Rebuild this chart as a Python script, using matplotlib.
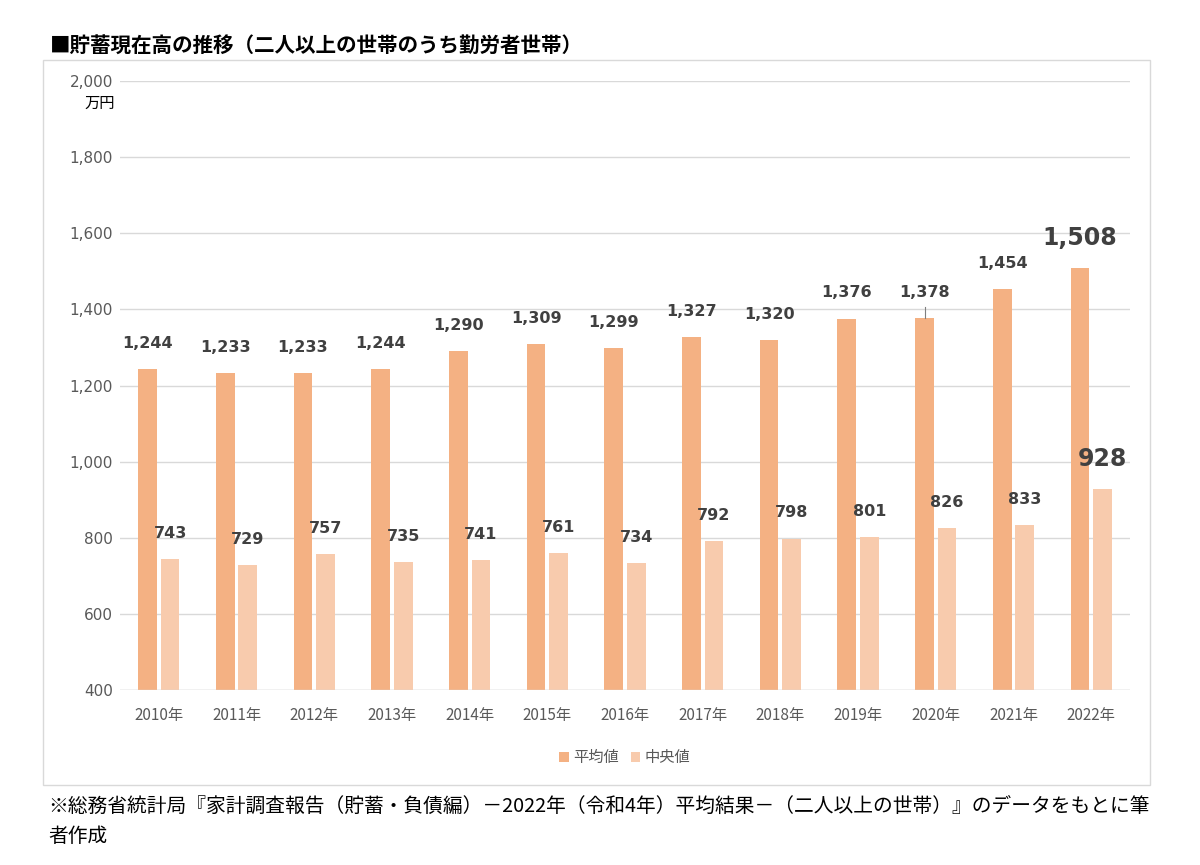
import matplotlib
matplotlib.use("Agg")
import matplotlib.pyplot as plt
from matplotlib.patches import Rectangle
import numpy as np

plt.rcParams['font.family'] = ['Noto Sans CJK JP', 'DejaVu Sans']

# data
years = ["2010年", "2011年", "2012年", "2013年", "2014年", "2015年", "2016年",
         "2017年", "2018年", "2019年", "2020年", "2021年", "2022年"]
meanValues = [1244, 1233, 1233, 1244, 1290, 1309, 1299, 1327, 1320, 1376, 1378, 1454, 1508]
medianValues = [743, 729, 757, 735, 741, 761, 734, 792, 798, 801, 826, 833, 928]
seriesNames = ["平均値", "中央値"]
yTicks = [400, 600, 800, 1000, 1200, 1400, 1600, 1800, 2000]

darkColor = "#F4B183"
lightColor = "#F8CBAD"
textColor = "#404040"

fig = plt.figure(figsize=(12, 8.65), dpi=100)

# outer chart frame
fig.patches.append(Rectangle((43 / 1200, 1 - 785 / 865), (1150 - 43) / 1200, (785 - 60) / 865,
                             transform=fig.transFigure, fill=False, edgecolor="#d9d9d9", linewidth=1))

ax = fig.add_axes([120 / 1200, 1 - 690 / 865, (1130 - 120) / 1200, (690 - 81) / 865])

x = np.arange(len(years))
barWidth = 0.24
gap = 0.025
ax.bar(x - barWidth / 2 - gap, meanValues, width=barWidth, color=darkColor, label=seriesNames[0], zorder=3)
ax.bar(x + barWidth / 2 + gap, medianValues, width=barWidth, color=lightColor, label=seriesNames[1], zorder=3)

ax.set_xlim(-0.5, len(years) - 0.5)
ax.set_ylim(400, 2000)
ax.set_yticks(yTicks)
ax.set_yticklabels([f"{v:,}" for v in yTicks], fontsize=11, color="#595959", family="DejaVu Sans")
ax.set_xticks(x)
ax.set_xticklabels(years, fontsize=11, color="#595959")
ax.tick_params(axis="x", length=0, pad=12)
ax.tick_params(axis="y", length=0, pad=5)
ax.grid(axis="y", color="#d9d9d9", linewidth=1, zorder=0)
for spine in ax.spines.values():
    spine.set_visible(False)
ax.axhline(400, color="#d9d9d9", linewidth=1, zorder=4)

# value labels
for i in range(len(years)):
    isLast = i == len(years) - 1
    size = 17 if isLast else 11.5
    ax.annotate(f"{meanValues[i]:,}", (x[i] - barWidth / 2 - gap, meanValues[i]),
                xytext=(0, 13), textcoords="offset points", ha="center", va="bottom",
                fontsize=size, fontweight="bold", color=textColor, family="DejaVu Sans")
    ax.annotate(f"{medianValues[i]:,}", (x[i] + barWidth / 2 + gap, medianValues[i]),
                xytext=(0, 13), textcoords="offset points", ha="center", va="bottom",
                fontsize=size, fontweight="bold", color=textColor, family="DejaVu Sans")

# leader line on 2020
ax.plot([x[10] - barWidth / 2 - gap] * 2, [meanValues[10], meanValues[10] + 28],
        color="#7f7f7f", linewidth=0.8, zorder=4)

fig.text(100 / 1200, 1 - 103 / 865, "万円", fontsize=11, color="#000000", ha="center", va="center")

fig.text(50 / 1200, 1 - 45 / 865, "■貯蓄現在高の推移（二人以上の世帯のうち勤労者世帯）",
         fontsize=14.8, fontweight="bold", ha="left", va="center")

leg = ax.legend(loc="upper center", bbox_to_anchor=(0.5, -0.075), ncol=2, frameon=False,
                fontsize=11, handlelength=0.6, handleheight=0.6, handletextpad=0.3, columnspacing=0.8)
for t in leg.get_texts():
    t.set_color("#595959")

fig.text(48 / 1200, 1 - 806 / 865,
         "※総務省統計局『家計調査報告（貯蓄・負債編）－2022年（令和4年）平均結果－（二人以上の世帯）』のデータをもとに筆",
         fontsize=14.2, ha="left", va="center")
fig.text(48 / 1200, 1 - 836 / 865, "者作成", fontsize=14.2, ha="left", va="center")

fig.savefig("out.png", dpi=100, facecolor="white")
